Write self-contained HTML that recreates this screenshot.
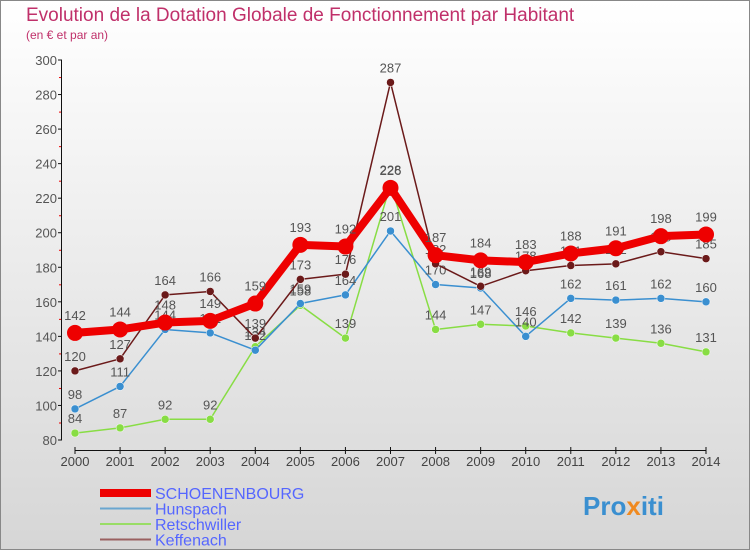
<!DOCTYPE html>
<html><head><meta charset="utf-8"><style>
body{margin:0;width:750px;height:550px;overflow:hidden;font-family:"Liberation Sans",sans-serif}
</style></head><body>
<svg id="c" width="750" height="550" xmlns="http://www.w3.org/2000/svg">
<defs><linearGradient id="bg" x1="0" y1="0" x2="0" y2="1"><stop offset="0" stop-color="#ffffff"/><stop offset="1" stop-color="#d6d6d6"/></linearGradient></defs>
<rect x="0.5" y="0.5" width="749" height="549" fill="url(#bg)" stroke="#888"/>
<text x="26" y="21" font-size="19" fill="#c0306a">Evolution de la Dotation Globale de Fonctionnement par Habitant</text>
<text x="26" y="39" font-size="12" fill="#c0306a">(en € et par an)</text>
<g id="axes"></g><g id="series"></g><g id="legend"></g>
<text x="583" y="515" font-size="26" font-weight="bold" fill="#3a8fd0">Pro<tspan fill="#f08a20">x</tspan>iti</text>
</svg>
<script>
const years=[2000,2001,2002,2003,2004,2005,2006,2007,2008,2009,2010,2011,2012,2013,2014];
const yTicks=[80,100,120,140,160,180,200,220,240,260,280,300];
const schoen=[142,144,148,149,159,193,192,226,187,184,183,188,191,198,199];
const hunspach=[98,111,144,142,132,159,164,201,170,168,140,162,161,162,160];
const retsch=[84,87,92,92,134,158,139,228,144,147,146,142,139,136,131];
const keff=[120,127,164,166,139,173,176,287,182,169,178,181,182,189,185];
const NS="http://www.w3.org/2000/svg";
const X=i=>75+i*(706-75)/14;
const Y=v=>440-(v-80)*(380/220);
function mk(t,a,p){const e=document.createElementNS(NS,t);for(const k in a)e.setAttribute(k,a[k]);p.appendChild(e);return e;}
const ax=document.getElementById('axes');
yTicks.forEach((v,k)=>{
 const t=mk('text',{x:57,y:Y(v)+5,'text-anchor':'end','font-size':13,fill:'#555'},ax);t.textContent=v;
 
 
 const mt=mk('line',{x1:58,x2:62,y1:Y(v),y2:Y(v),stroke:'#111','stroke-width':1},ax);
 
 
 if(k<yTicks.length-1){
 const tk=mk('line',{x1:59,x2:62,y1:Y(v)-17,y2:Y(v)-17,stroke:'#e00','stroke-width':1},ax);
 
 }
});
let l=mk('line',{x1:61.5,x2:61.5,y1:Y(300),y2:Y(80),stroke:'#111'},ax);


l=mk('line',{x1:X(0),x2:X(14),y1:450.5,y2:450.5,stroke:'#111'},ax);


years.forEach((y,i)=>{
 const t=mk('text',{x:X(i),y:466,'text-anchor':'middle','font-size':13,fill:'#444'},ax);t.textContent=y;
 
 
 const tk=mk('line',{x1:X(i),x2:X(i),y1:447,y2:454,stroke:'#111'},ax);
 
 
});
const S=document.getElementById('series');
const defs=[
 {d:retsch,c:'#88dd44',w:1.5,r:4,n:'retschwiller'},
 {d:hunspach,c:'#3a8fd0',w:1.5,r:4,n:'hunspach'},
 {d:keff,c:'#6b1a1a',w:1.5,r:4,n:'keffenach'},
 {d:schoen,c:'#ee0000',w:8,r:8,n:'schoenenbourg'}];
defs.forEach(s=>{
 const g=mk('g',{},S);
 
 
 const p=mk('polyline',{points:s.d.map((v,i)=>X(i)+','+Y(v)).join(' '),fill:'none',stroke:s.c,'stroke-width':s.w,'stroke-linejoin':'round'},g);
 
 
 s.d.forEach((v,i)=>{
  const c=mk('circle',{cx:X(i),cy:Y(v),r:s.r,fill:s.c,stroke:s.r<8?'#fff':'none','stroke-width':0.5},g);
  
  
  const t=mk('text',{x:X(i),y:Y(v)-(s.r<8?10:13),'text-anchor':'middle','font-size':13,fill:'#555'},g);t.textContent=v;
  
  
 });
});
const L=document.getElementById('legend');
const leg=[['SCHOENENBOURG','#ee0000',8],['Hunspach','#6aa6d0',2],['Retschwiller','#99dd66',2],['Keffenach','#9a6060',2]];
leg.forEach((e,i)=>{
 const y=493+i*15.5;
 const ln=mk('line',{x1:100,x2:151,y1:y,y2:y,stroke:e[1],'stroke-width':e[2]},L);
 
 
 const t=mk('text',{x:155,y:y+6,'font-size':16,fill:'#5566ff'},L);t.textContent=e[0];
 
 
});
</script>
</body></html>
